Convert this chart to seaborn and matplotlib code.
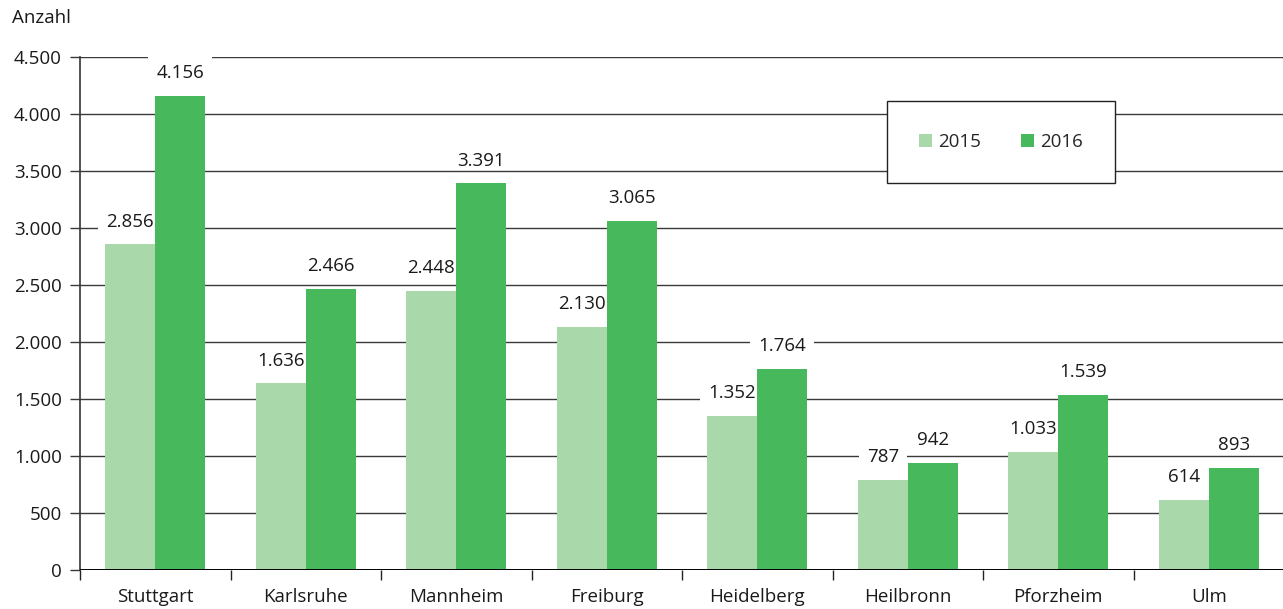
import matplotlib
matplotlib.use("Agg")
import matplotlib.pyplot as plt
import seaborn as sns
import pandas as pd
from matplotlib.path import Path
from matplotlib.ticker import FixedLocator, FuncFormatter

# Data
staedte = ["Stuttgart", "Karlsruhe", "Mannheim", "Freiburg",
           "Heidelberg", "Heilbronn", "Pforzheim", "Ulm"]
werte_2015 = [2856, 1636, 2448, 2130, 1352, 787, 1033, 614]
werte_2016 = [4156, 2466, 3391, 3065, 1764, 942, 1539, 893]
jahre = ["2015", "2016"]
farben = ["#a9d8ab", "#47b85c"]
y_ticks = [0, 500, 1000, 1500, 2000, 2500, 3000, 3500, 4000, 4500]

df = pd.DataFrame({
    "Stadt": staedte * 2,
    "Anzahl": werte_2015 + werte_2016,
    "Jahr": [jahre[0]] * len(staedte) + [jahre[1]] * len(staedte),
})

sns.set_theme(style="white")
plt.rcParams["font.family"] = ["Open Sans", "DejaVu Sans"]
FS = 13.5

def de_fmt(v):
    return f"{int(round(v)):,}".replace(",", ".")


def label_box(x0, y0, width, height, mutation_size):
    """White box behind value labels: wide at the sides and top, tight below."""
    left, right, top, bottom = 8, 8, 7, -1
    xa, xb = x0 - left, x0 + width + right
    ya, yb = y0 - bottom, y0 + height + top
    return Path([(xa, ya), (xb, ya), (xb, yb), (xa, yb), (xa, ya)],
                closed=True)


fig = plt.figure(figsize=(12.83, 6.09), dpi=100)
ax = fig.add_axes([80 / 1283, 39 / 609, 1204 / 1283, 513 / 609])

sns.barplot(data=df, x="Stadt", y="Anzahl", hue="Jahr", palette=farben,
            hue_order=jahre, order=staedte, width=0.664, saturation=1,
            linewidth=0, edgecolor="none", ax=ax, legend=True)
for p in ax.patches:
    p.set_zorder(2)

ax.set_xlim(-0.5, len(staedte) - 0.5)
ax.set_ylim(0, 4500)
ax.set_xlabel("")
ax.set_ylabel("")

# Grid and axes
ax.set_axisbelow(True)
ax.yaxis.set_major_locator(FixedLocator(y_ticks))
ax.yaxis.set_major_formatter(FuncFormatter(lambda v, p: de_fmt(v)))
ax.grid(axis="y", color="#3a3a3a", linewidth=1.0)
ax.grid(axis="x", visible=False)
for s in ["top", "right", "bottom"]:
    ax.spines[s].set_visible(False)
ax.spines["left"].set_color("#333333")
ax.spines["left"].set_linewidth(1.2)
ax.axhline(0, color="black", linewidth=1.4, zorder=3)

ax.tick_params(axis="y", which="major", direction="out", length=7, width=1,
               color="#3a3a3a", labelsize=FS, pad=6, left=True)
ax.tick_params(axis="x", which="major", length=0, labelsize=FS, pad=13)
ax.set_xticks([i + 0.5 for i in range(-1, len(staedte))], minor=True)
ax.tick_params(axis="x", which="minor", direction="out", length=7, width=1,
               color="#222222", bottom=True)
for lbl in ax.get_xticklabels() + ax.get_yticklabels():
    lbl.set_color("#1a1a1a")

# Value labels above bars; their white boxes hide the grid but sit behind bars
for cont in ax.containers:
    labels = [de_fmt(b.get_height()) for b in cont]
    anns = ax.bar_label(cont, labels=labels, padding=10, fontsize=FS,
                        color="#1a1a1a")
    for a in anns:
        a.set_bbox(dict(boxstyle=label_box, facecolor="white",
                        edgecolor="none"))
        a.set_zorder(1)

# Legend
leg = ax.legend(loc="center", bbox_to_anchor=(0.765, 0.834), ncol=2,
                frameon=True, fancybox=False, framealpha=1, fontsize=FS,
                handlelength=0.7, handleheight=0.7, handletextpad=0.35,
                columnspacing=2.1, borderpad=1.7, borderaxespad=0)
leg.set_zorder(5)
leg.get_frame().set_edgecolor("#222222")
leg.get_frame().set_linewidth(1.0)
leg.set_title(None)
for h in leg.legend_handles:
    h.set_edgecolor("none")

fig.text(12 / 1283, 1 - 18 / 609, "Anzahl", fontsize=FS, color="#1a1a1a",
         ha="left", va="center")

fig.savefig("out.png", dpi=100, facecolor="white")
